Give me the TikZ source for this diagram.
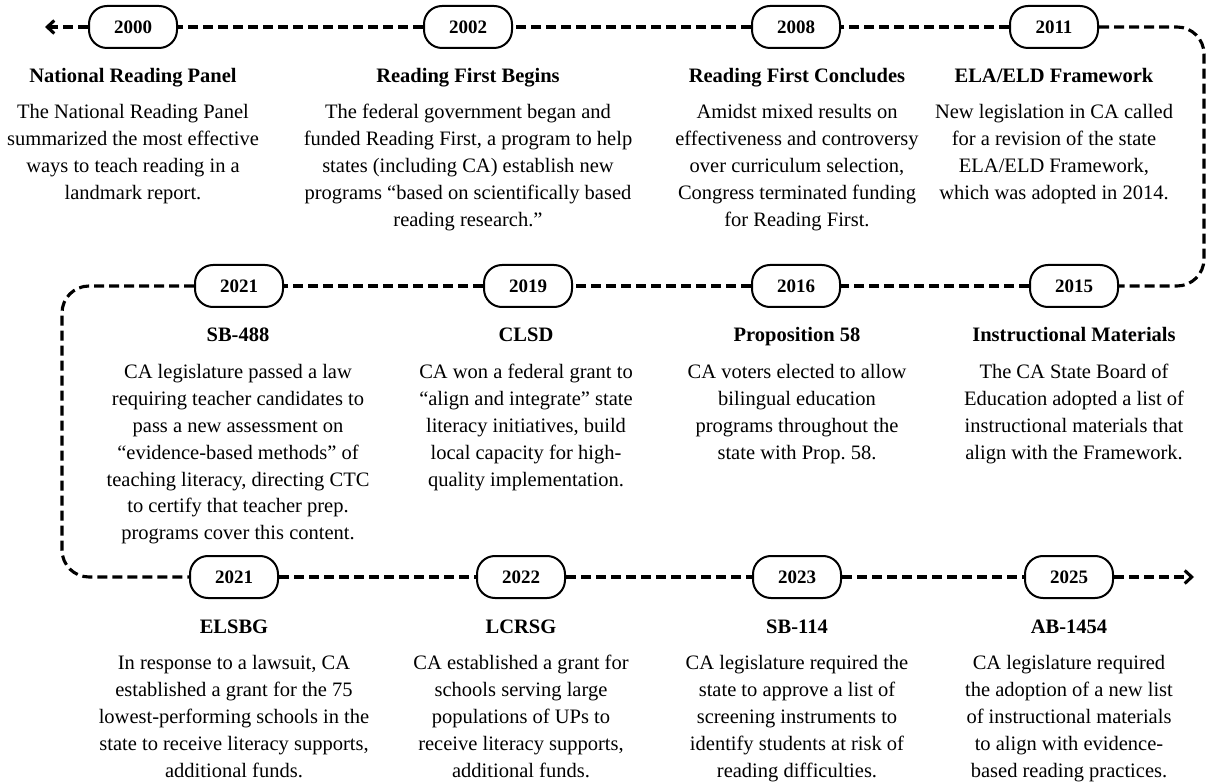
\documentclass[tikz,border=0pt]{standalone}
\usepackage{fontspec}
\setmainfont{Liberation Serif}
\usetikzlibrary{arrows.meta}
\frenchspacing
\begin{document}
\begin{tikzpicture}[x=1pt,y=-1pt,
  conn/.style={line width=3.1pt, dash pattern=on 10pt off 5pt, black},
  yearbox/.style={draw, line width=2pt, rounded corners=18pt, minimum width=88pt, minimum height=42pt, inner sep=0pt, fill=white, font=\fontsize{19}{22}\selectfont\bfseries},
  head/.style={inner sep=0pt, anchor=base, font=\fontsize{20.5}{24}\selectfont\bfseries},
  body/.style={inner sep=0pt, anchor=north, align=center, font=\fontsize{20.5}{26.9}\selectfont\frenchspacing},
  tip/.style={-{Straight Barb[length=7pt,width=13pt]}}
]
\useasboundingbox (0,0) rectangle (1208,783);

% ---------- Row 1 ----------
\node[yearbox] (y2000) at (133,27) {2000};
\node[yearbox] (y2002) at (468,27) {2002};
\node[yearbox] (y2008) at (796,27) {2008};
\node[yearbox] (y2011) at (1054,27) {2011};

\node[head] (h2000) at (133,83) {National Reading Panel};
\node[body] (b2000) at (133,104) {The National Reading Panel\\summarized the most effective\\ways to teach reading in a\\landmark report.};
\node[head] (h2002) at (468,83) {Reading First Begins};
\node[body] (b2002) at (468,104) {The federal government began and\\funded Reading First, a program to help\\states (including CA) establish new\\programs “based on scientifically based\\reading research.”};
\node[head] (h2008) at (797,83) {Reading First Concludes};
\node[body] (b2008) at (797,104) {Amidst mixed results on\\effectiveness and controversy\\over curriculum selection,\\Congress terminated funding\\for Reading First.};
\node[head] (h2011) at (1054,83) {ELA/ELD Framework};
\node[body] (b2011) at (1054,104) {New legislation in CA called\\for a revision of the state\\ELA/ELD Framework,\\which was adopted in 2014.};

% ---------- Row 2 ----------
\node[yearbox] (y2021a) at (239,286) {2021};
\node[yearbox] (y2019) at (528,286) {2019};
\node[yearbox] (y2016) at (796,286) {2016};
\node[yearbox] (y2015) at (1074,286) {2015};

\node[head] (h2021a) at (238,342) {SB-488};
\node[body] (b2021a) at (238,364) {CA legislature passed a law\\requiring teacher candidates to\\pass a new assessment on\\“evidence-based methods” of\\teaching literacy, directing CTC\\to certify that teacher prep.\\programs cover this content.};
\node[head] (h2019) at (526,342) {CLSD};
\node[body] (b2019) at (526,364) {CA won a federal grant to\\“align and integrate” state\\literacy initiatives, build\\local capacity for high-\\quality implementation.};
\node[head] (h2016) at (797,342) {Proposition 58};
\node[body] (b2016) at (797,364) {CA voters elected to allow\\bilingual education\\programs throughout the\\state with Prop. 58.};
\node[head] (h2015) at (1074,342) {Instructional Materials};
\node[body] (b2015) at (1074,364) {The CA State Board of\\Education adopted a list of\\instructional materials that\\align with the Framework.};

% ---------- Row 3 ----------
\node[yearbox] (y2021b) at (234,577) {2021};
\node[yearbox] (y2022) at (521,577) {2022};
\node[yearbox] (y2023) at (797,577) {2023};
\node[yearbox] (y2025) at (1069,577) {2025};

\node[head] (h2021b) at (234,633) {ELSBG};
\node[body] (b2021b) at (234,655) {In response to a lawsuit, CA\\established a grant for the 75\\lowest-performing schools in the\\state to receive literacy supports,\\additional funds.};
\node[head] (h2022) at (521,633) {LCRSG};
\node[body] (b2022) at (521,655) {CA established a grant for\\schools serving large\\populations of UPs to\\receive literacy supports,\\additional funds.};
\node[head] (h2023) at (797,633) {SB-114};
\node[body] (b2023) at (797,655) {CA legislature required the\\state to approve a list of\\screening instruments to\\identify students at risk of\\reading difficulties.};
\node[head] (h2025) at (1069,633) {AB-1454};
\node[body] (b2025) at (1069,655) {CA legislature required\\the adoption of a new list\\of instructional materials\\to align with evidence-\\based reading practices.};

% ---------- connectors ----------
\coordinate (startTip) at (45,27);
\coordinate (rightBend) at (1204,156);
\coordinate (leftBend) at (62,430);
\coordinate (endTip) at (1194,577);

\draw[conn, tip] (y2000.west) -- (startTip);
\draw[conn] (y2002.west) -- (y2000.east);
\draw[conn] (y2008.west) -- (y2002.east);
\draw[conn] (y2011.west) -- (y2008.east);
\draw[conn, rounded corners=27pt] (y2011.east) -| (rightBend) |- (y2015.east);
\draw[conn] (y2015.west) -- (y2016.east);
\draw[conn] (y2016.west) -- (y2019.east);
\draw[conn] (y2019.west) -- (y2021a.east);
\draw[conn, rounded corners=27pt] (y2021a.west) -| (leftBend) |- (y2021b.west);
\draw[conn] (y2021b.east) -- (y2022.west);
\draw[conn] (y2022.east) -- (y2023.west);
\draw[conn] (y2023.east) -- (y2025.west);
\draw[conn, tip] (y2025.east) -- (endTip);
\end{tikzpicture}
\end{document}
